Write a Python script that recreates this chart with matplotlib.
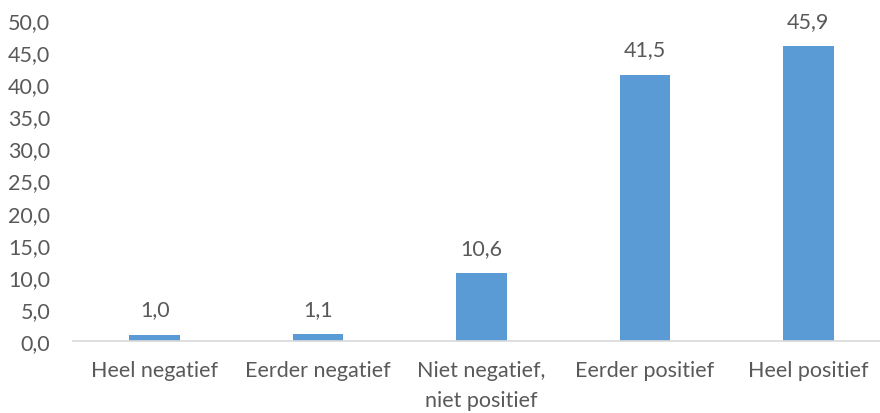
import matplotlib
matplotlib.use('Agg')
import matplotlib.pyplot as plt
import numpy as np

categories = ['Heel negatief', 'Eerder negatief', 'Niet negatief,\nniet positief',
              'Eerder positief', 'Heel positief']
values = [1.0, 1.1, 10.6, 41.5, 45.9]
yticks = np.arange(0, 55, 5)

plt.rcParams['font.family'] = ['Lato', 'DejaVu Sans']
text_col = '#595959'
fs = 15.5

fig = plt.figure(figsize=(8.8, 4.14), dpi=100)
ax = fig.add_axes([73 / 880, 1 - 342 / 414, 817 / 880, 321 / 414])

x = np.arange(len(categories))
ax.bar(x, values, width=0.31, color='#5B9BD5', zorder=2)
for xi, v in zip(x, values):
    ax.annotate(f'{v:.1f}'.replace('.', ','), (xi, v), xytext=(0, 11),
                textcoords='offset points', ha='center', va='bottom',
                fontsize=fs, color=text_col)

ax.set_xlim(-0.5, len(categories) - 0.5)
ax.set_ylim(0, 50)
ax.set_yticks(yticks)
ax.set_yticklabels([f'{t:.1f}'.replace('.', ',') for t in yticks])
ax.set_xticks(x)
ax.set_xticklabels(categories, linespacing=1.6)
ax.tick_params(axis='y', length=0, pad=16.5, labelsize=fs, labelcolor=text_col)
ax.tick_params(axis='x', length=0, pad=14, labelsize=fs, labelcolor=text_col)

for s in ['left', 'right', 'top']:
    ax.spines[s].set_visible(False)
ax.spines['bottom'].set_color('#D9D9D9')
ax.spines['bottom'].set_linewidth(1.2)

fig.savefig('out.png', dpi=100)
